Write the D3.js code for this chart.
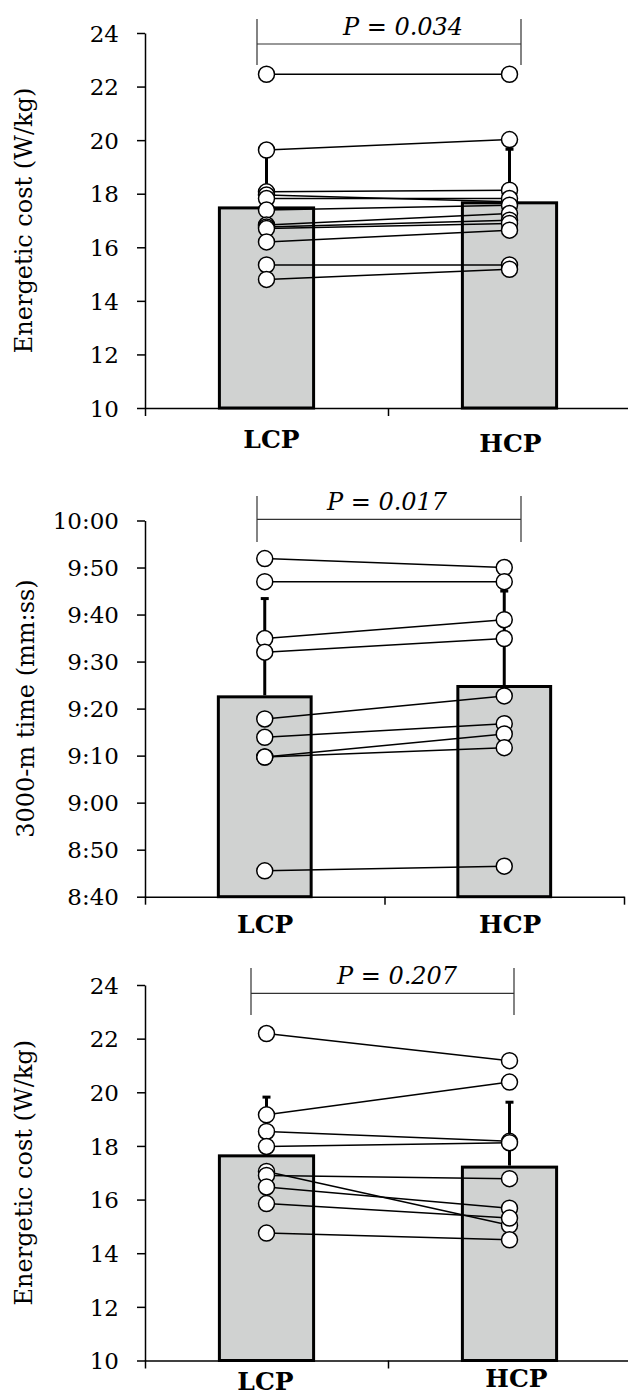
<!DOCTYPE html>
<html>
<head>
<meta charset="utf-8">
<script src="https://cdn.jsdelivr.net/npm/d3@7"></script>
<style>
  body { margin: 0; background: #fff; }
  svg { display: block; }
  svg text { font-family: "DejaVu Serif", "Times New Roman", serif; fill: #000; }
</style>
</head>
<body>
<div id="chart"></div>
<script>
// conditions
const groups = ["LCP", "HCP"];

// top panel: energetic cost (W/kg), one pair per runner
const costA_LCP = [22.46, 19.63, 18.07, 17.95, 17.82, 17.39, 16.83, 16.76, 16.70, 16.20, 15.34, 14.80];
const costA_HCP = [22.46, 20.02, 18.13, 17.70, 17.82, 17.57, 17.26, 17.01, 16.89, 16.64, 15.34, 15.18];
const costA_mean = [17.47, 17.66];
const costA_sd = [2.10, 2.00];
const costA_ticks = [10, 12, 14, 16, 18, 20, 22, 24];
const costA_p = "P = 0.034";

// middle panel: 3000-m time, in seconds
const time_LCP = [591.9, 587.0, 574.9, 572.0, 557.8, 553.9, 549.7, 549.7, 525.5];
const time_HCP = [590.0, 587.0, 578.9, 574.9, 562.7, 556.8, 554.6, 551.7, 526.5];
const time_mean = [562.5, 564.7];
const time_sd = [20.9, 20.3];
const time_ticks = [520, 530, 540, 550, 560, 570, 580, 590, 600];
const time_p = "P = 0.017";

// bottom panel: energetic cost (W/kg)
const costB_LCP = [22.19, 19.16, 18.54, 17.98, 17.05, 16.90, 16.47, 15.85, 14.75];
const costB_HCP = [21.18, 20.38, 18.17, 18.12, 15.04, 16.78, 15.68, 15.31, 14.50];
const costB_mean = [17.63, 17.21];
const costB_sd = [2.19, 2.42];
const costB_ticks = [10, 12, 14, 16, 18, 20, 22, 24];
const costB_p = "P = 0.207";

const fmtTime = s => Math.floor(s / 60) + ":" + String(Math.round(s % 60)).padStart(2, "0");

const svg = d3.select("#chart").append("svg")
    .attr("width", 628)
    .attr("height", 1395);

const panels = [
    { lcp: costA_LCP, hcp: costA_HCP, mean: costA_mean, sd: costA_sd, ticks: costA_ticks,
      p: costA_p, fmt: d => d, ylabel: "Energetic cost (W/kg)",
      top: 33, bottom: 408, band: 243, ylabX: 32,
      br: { x1: 257, x2: 521, y: 44, y1: 19, y2: 65 }, pX: 403, pY: 35,
      lab: [{ dx: 5, y: 448 }, { dx: 1, y: 452 }] },
    { lcp: time_LCP, hcp: time_HCP, mean: time_mean, sd: time_sd, ticks: time_ticks,
      p: time_p, fmt: fmtTime, ylabel: "3000-m time (mm:ss)",
      top: 520.5, bottom: 896.7, band: 239.5, ylabX: 34,
      br: { x1: 257, x2: 521, y: 519.3, y1: 496, y2: 542 }, pX: 387, pY: 510,
      lab: [{ dx: 0.5, y: 933 }, { dx: 6, y: 933 }] },
    { lcp: costB_LCP, hcp: costB_HCP, mean: costB_mean, sd: costB_sd, ticks: costB_ticks,
      p: costB_p, fmt: d => d, ylabel: "Energetic cost (W/kg)",
      top: 985, bottom: 1360.5, band: 243, ylabX: 32,
      br: { x1: 251, x2: 514, y: 993.3, y1: 968, y2: 1015 }, pX: 397, pY: 984,
      lab: [{ dx: -1, y: 1390 }, { dx: 7, y: 1387 }] }
];

panels.forEach(drawPanel);

function drawPanel(cfg) {
    const g = svg.append("g");
    const x0 = 145;

    const y = d3.scaleLinear()
        .domain(d3.extent(cfg.ticks))
        .range([cfg.bottom, cfg.top]);

    // x positions: 0..2 across two category slots, categories at slot centres
    const xs = d3.scaleLinear().domain([0, 2]).range([x0, x0 + 2 * cfg.band]);
    const xc = i => xs(i + 0.5);
    const barW = cfg.band * 0.4 - 3;

    // bars
    g.selectAll("rect.bar")
        .data(cfg.mean)
        .join("rect")
        .attr("class", "bar")
        .attr("x", (d, i) => xc(i) - barW / 2)
        .attr("y", d => y(d))
        .attr("width", barW)
        .attr("height", d => y.range()[0] - y(d))
        .attr("fill", "#d0d2d1")
        .attr("stroke", "#000")
        .attr("stroke-width", 3);

    // error bars (upper only)
    const eb = g.selectAll("g.err")
        .data(cfg.mean.map((m, i) => ({ m, s: cfg.sd[i], i })))
        .join("g")
        .attr("class", "err");
    eb.append("line")
        .attr("x1", d => xc(d.i)).attr("x2", d => xc(d.i))
        .attr("y1", d => y(d.m) - 1.5).attr("y2", d => y(d.m + d.s))
        .attr("stroke", "#000").attr("stroke-width", 3);
    eb.append("line")
        .attr("x1", d => xc(d.i) - 4).attr("x2", d => xc(d.i) + 4)
        .attr("y1", d => y(d.m + d.s)).attr("y2", d => y(d.m + d.s))
        .attr("stroke", "#000").attr("stroke-width", 3);

    // individual pairs
    const pairs = cfg.lcp.map((v, i) => [v, cfg.hcp[i]]);
    g.selectAll("line.pair")
        .data(pairs)
        .join("line")
        .attr("class", "pair")
        .attr("x1", xc(0)).attr("x2", xc(1))
        .attr("y1", d => y(d[0])).attr("y2", d => y(d[1]))
        .attr("stroke", "#000").attr("stroke-width", 1.5);

    const pts = pairs.flatMap(d => [{ i: 0, v: d[0] }, { i: 1, v: d[1] }]);
    g.selectAll("circle.pt")
        .data(pts)
        .join("circle")
        .attr("class", "pt")
        .attr("cx", d => xc(d.i))
        .attr("cy", d => y(d.v))
        .attr("r", 8)
        .attr("fill", "#fff")
        .attr("stroke", "#000")
        .attr("stroke-width", 1.5);

    // y axis
    const yAxis = g.append("g")
        .attr("transform", `translate(${x0},0)`)
        .call(d3.axisLeft(y).tickValues(cfg.ticks).tickFormat(cfg.fmt)
            .tickSize(8).tickSizeOuter(0).tickPadding(18));
    yAxis.attr("font-family", null);
    yAxis.selectAll("text").style("font-size", "23px").attr("dy", "0.36em");

    // x axis
    const xAxis = g.append("g")
        .attr("transform", `translate(0,${y.range()[0]})`)
        .call(d3.axisBottom(xs).tickValues([0, 1, 2]).tickFormat("")
            .tickSize(8).tickSizeOuter(0));

    [yAxis, xAxis].forEach(a => {
        a.select(".domain").attr("stroke-width", 1.5);
        a.selectAll(".tick line").attr("stroke-width", 1.5);
    });

    // category labels
    g.selectAll("text.cat")
        .data(groups)
        .join("text")
        .attr("class", "cat")
        .attr("x", (d, i) => xc(i) + cfg.lab[i].dx)
        .attr("y", (d, i) => cfg.lab[i].y)
        .attr("text-anchor", "middle")
        .style("font-size", "25px")
        .style("font-weight", "bold")
        .text(d => d);

    // y label
    g.append("text")
        .attr("transform", `translate(${cfg.ylabX},${(cfg.top + cfg.bottom) / 2}) rotate(-90)`)
        .attr("text-anchor", "middle")
        .style("font-size", "24px")
        .text(cfg.ylabel);

    // significance bracket
    const b = cfg.br;
    g.append("path")
        .attr("d", `M${b.x1},${b.y1}V${b.y2}M${b.x1},${b.y}H${b.x2}M${b.x2},${b.y1}V${b.y2}`)
        .attr("fill", "none")
        .attr("stroke", "#333")
        .attr("stroke-width", 1.2);
    g.append("text")
        .attr("x", cfg.pX)
        .attr("y", cfg.pY)
        .attr("text-anchor", "middle")
        .style("font-size", "24px")
        .style("font-style", "italic")
        .text(cfg.p);
}
</script>
</body>
</html>
